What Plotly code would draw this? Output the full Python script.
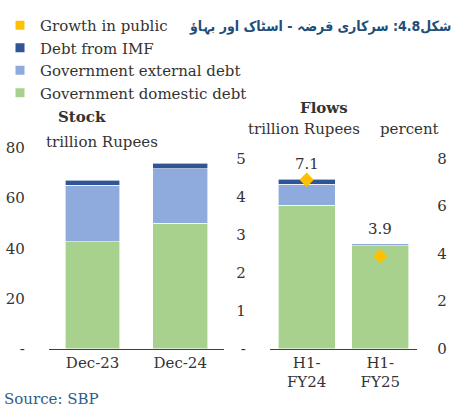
import plotly.graph_objects as go

# ---- data ----
stock_cats = ["Dec-23", "Dec-24"]
stock_domestic = [42.6, 49.9]
stock_external = [22.5, 21.7]
stock_imf = [1.9, 2.3]

flow_cats = ["H1-<br>FY24", "H1-<br>FY25"]
flow_domestic = [3.77, 2.71]
flow_external = [0.55, 0.04]
flow_imf = [0.13, 0.01]
growth_pct = [7.1, 3.9]

stock_ticks = [0, 20, 40, 60, 80]
stock_ticktext = ["-", "20", "40", "60", "80"]
flow_ticks = [0, 1, 2, 3, 4, 5]
flow_ticktext = ["-", "1", "2", "3", "4", "5"]
pct_ticks = [0, 2, 4, 6, 8]

C_DOM = "#A9D18E"
C_EXT = "#8FAADC"
C_IMF = "#2F5597"
C_GRO = "#FFC000"
TXT = "#333333"
FONT = "DejaVu Serif"

W, H = 455, 419
def px_x(p): return p / W
def px_y(p): return 1 - p / H

fig = go.Figure()

# legend-only entries (square symbols)
for name, col in [("Growth in public", C_GRO), ("Debt from IMF", C_IMF),
                  ("Government external debt", C_EXT), ("Government domestic debt", C_DOM)]:
    fig.add_trace(go.Scatter(x=[None], y=[None], mode="markers", name=name,
                             marker=dict(symbol="square", size=9, color=col),
                             showlegend=True, legendgroup=name,
                             xaxis="x2", yaxis="y3", hoverinfo="skip"))

line = dict(color="white", width=0.6)
# stock bars
for vals, col, nm in [(stock_domestic, C_DOM, "Government domestic debt"),
                      (stock_external, C_EXT, "Government external debt"),
                      (stock_imf, C_IMF, "Debt from IMF")]:
    fig.add_trace(go.Bar(x=stock_cats, y=vals, marker=dict(color=col, line=line),
                         width=0.625, showlegend=False, legendgroup=nm,
                         xaxis="x", yaxis="y"))
# flow bars
for vals, col, nm in [(flow_domestic, C_DOM, "Government domestic debt"),
                      (flow_external, C_EXT, "Government external debt"),
                      (flow_imf, C_IMF, "Debt from IMF")]:
    fig.add_trace(go.Bar(x=flow_cats, y=vals, marker=dict(color=col, line=line),
                         width=0.77, showlegend=False, legendgroup=nm,
                         xaxis="x2", yaxis="y2"))

# growth markers on percent axis
fig.add_trace(go.Scatter(x=flow_cats, y=growth_pct, mode="markers",
                         marker=dict(symbol="diamond", size=11, color=C_GRO),
                         showlegend=False, legendgroup="Growth in public",
                         xaxis="x2", yaxis="y3"))

# data labels above the higher of bar top / marker
scale = pct_ticks[-1] / flow_ticks[-1]
for c, g, d, e, i in zip(flow_cats, growth_pct, flow_domestic, flow_external, flow_imf):
    top = max((d + e + i) * scale, g)
    fig.add_annotation(x=c, y=top, xref="x2", yref="y3", text=f"{g:.1f}",
                       showarrow=False, yshift=15, font=dict(family=FONT, size=15, color=TXT))

axis_common = dict(showgrid=False, zeroline=False, fixedrange=True)
fig.update_layout(
    width=W, height=H, margin=dict(l=0, r=0, t=0, b=0),
    paper_bgcolor="white", plot_bgcolor="white",
    barmode="stack", font=dict(family=FONT, size=15, color=TXT),
    xaxis=dict(type="category", categoryarray=stock_cats, categoryorder="array",
               domain=[px_x(47), px_x(223)], showline=True, linecolor="#404040", linewidth=1,
               ticks="", tickfont=dict(size=15), anchor="y", range=[-0.5, 1.5], **axis_common),
    yaxis=dict(domain=[px_y(355), px_y(145)], range=[0, 80], tickvals=stock_ticks,
               ticktext=stock_ticktext, ticks="outside", ticklen=20, tickcolor="rgba(0,0,0,0)",
               showline=False, anchor="x", tickfont=dict(size=15), **axis_common),
    xaxis2=dict(type="category", categoryarray=flow_cats, categoryorder="array",
                domain=[px_x(269), px_x(417)], showline=True, linecolor="#404040", linewidth=1,
                ticks="", tickfont=dict(size=15), anchor="y2", range=[-0.5, 1.5], **axis_common),
    yaxis2=dict(domain=[px_y(355), px_y(156)], range=[0, 5], tickvals=flow_ticks,
                ticktext=flow_ticktext, ticks="outside", ticklen=20, tickcolor="rgba(0,0,0,0)",
                showline=False, anchor="x2", tickfont=dict(size=15), **axis_common),
    yaxis3=dict(domain=[px_y(355), px_y(156)], range=[0, 8], tickvals=pct_ticks,
                overlaying="y2", side="right", anchor="x2", ticks="outside", ticklen=16,
                tickcolor="rgba(0,0,0,0)", showline=False, tickfont=dict(size=15), **axis_common),
    legend=dict(x=px_x(-2), y=px_y(0), xanchor="left", yanchor="top",
                bgcolor="rgba(0,0,0,0)", font=dict(size=15, color=TXT),
                tracegroupgap=0, itemwidth=30, traceorder="normal"),
    showlegend=True,
)

ann = [
    dict(text="<b>Stock</b>", x=px_x(80), y=px_y(113)),
    dict(text="trillion Rupees", x=px_x(100), y=px_y(139)),
    dict(text="<b>Flows</b>", x=px_x(323), y=px_y(103)),
    dict(text="trillion Rupees", x=px_x(303), y=px_y(125)),
    dict(text="percent", x=px_x(409), y=px_y(125)),
]
for a in ann:
    fig.add_annotation(xref="paper", yref="paper", xanchor="center", yanchor="middle",
                       showarrow=False, font=dict(family=FONT, size=15, color=TXT), **a)

fig.add_annotation(text="Source: SBP", xref="paper", yref="paper", x=0, y=px_y(408),
                   xanchor="left", yanchor="middle", showarrow=False,
                   font=dict(family=FONT, size=15, color="#2E5C8A"))
fig.add_annotation(text="<b>شکل4.8: سرکاری قرضہ - اسٹاک اور بہاؤ</b>", xref="paper", yref="paper",
                   x=px_x(453), y=px_y(18), xanchor="right", yanchor="middle", showarrow=False,
                   font=dict(family="DejaVu Sans Condensed", size=14, color="#1F4E79"))

fig.write_html("out.html")
